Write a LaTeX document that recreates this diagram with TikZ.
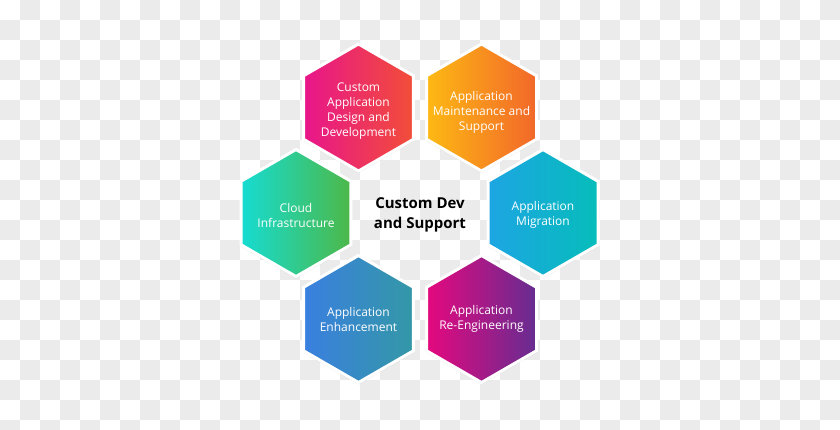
\documentclass[tikz,border=0pt]{standalone}
\usepackage{fontspec}
\setmainfont{Open Sans}
\usepackage{tikz}
\usetikzlibrary{shapes.geometric}
\usetikzlibrary{shadows}
\usetikzlibrary{positioning}

\definecolor{checkgray}{HTML}{EBEBEB}
\definecolor{designL}{HTML}{E8158B}
\definecolor{designR}{HTML}{F24E38}
\definecolor{maintL}{HTML}{FDB913}
\definecolor{maintR}{HTML}{F2672A}
\definecolor{migrL}{HTML}{1DA5E3}
\definecolor{migrR}{HTML}{06BDBA}
\definecolor{reengL}{HTML}{E5087E}
\definecolor{reengR}{HTML}{662D91}
\definecolor{enhL}{HTML}{3A7FE0}
\definecolor{enhR}{HTML}{3498A6}
\definecolor{cloudL}{HTML}{16DCD2}
\definecolor{cloudR}{HTML}{4DB848}

\tikzset{
  hexa/.style={regular polygon, regular polygon sides=6, shape border rotate=30,
    minimum size=127pt, inner sep=0pt, outer sep=0pt, draw=white, line width=3pt,
    drop shadow={opacity=0.18, shadow xshift=0pt, shadow yshift=-2pt}},
  hexatext/.style={text=white, align=center, inner sep=0pt,
    font=\fontsize{12}{15}\selectfont},
  hub/.style={align=center, font=\fontsize{15}{20}\selectfont\bfseries, text=black}
}

\begin{document}
\begin{tikzpicture}[x=1pt, y=1pt]
                % checker background
                \clip (0,0) rectangle (840,429);
                \fill[white] (0,0) rectangle (840,429);
                \foreach \r in {0,...,21}
                  \foreach \c in {0,...,41} {
                    \pgfmathtruncatemacro\odd{mod(\r+\c,2)}
                    \ifnum\odd=1
                      \fill[checkgray] (20*\c, 429-20*\r) rectangle ++(20,-20);
                    \fi
                  }
                \node[hub] (core) at (420,214) {Custom Dev\\and Support};
                \node[hexa, left color=designL, right color=designR,
                  label={[hexatext, yshift=-4pt]center:Custom\\Application\\Design and\\Development}]
                  (design) at (358.5,321.5) {};
                \node[hexa, left color=maintL, right color=maintR,
                  label={[hexatext, yshift=-5pt]center:Application\\Maintenance and\\Support}]
                  (maint) at (481.5,321.5) {};
                \node[hexa, left color=migrL, right color=migrR,
                  label={[hexatext, yshift=-2pt]center:Application\\Migration}]
                  (migr) at (543,216) {};
                \node[hexa, left color=reengL, right color=reengR,
                  label={[hexatext]center:Application\\Re-Engineering}]
                  (reeng) at (481.5,110) {};
                \node[hexa, left color=enhL, right color=enhR,
                  label={[hexatext]center:Application\\Enhancement}]
                  (enh) at (358.5,110) {};
                \node[hexa, left color=cloudL, right color=cloudR,
                  label={[hexatext, yshift=-2pt]center:Cloud\\Infrastructure}]
                  (cloud) at (296,216) {};
            \end{tikzpicture}
\end{document}
